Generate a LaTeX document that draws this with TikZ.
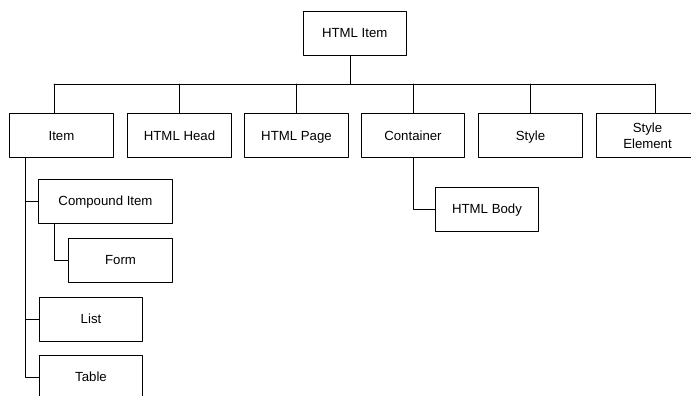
\documentclass[tikz,border=0pt]{standalone}
\usepackage{fontspec}
\setmainfont{Liberation Sans}
\tikzset{
  itembox/.style={draw, line width=0.7pt, minimum width=2.575cm, minimum height=1.1cm,
    inner sep=1pt, align=center, font=\fontsize{9.4}{11.5}\selectfont},
  oneline/.style={itembox, text height=1.6ex, text depth=0.3ex},
  link/.style={line width=0.7pt}
}
\begin{document}
\begin{tikzpicture}[x=0.025cm, y=-0.025cm, line cap=round, line join=round]
  \useasboundingbox (0,0) rectangle (691,395);

  \node[oneline] (top) at (354.7,33) {HTML Item};

  \node[oneline] (item)      at (61.5,135.5)  {Item};
  \node[oneline] (head)      at (179.5,135.5) {HTML Head};
  \node[oneline] (page)      at (296.5,135.5) {HTML Page};
  \node[oneline] (container) at (413,135.5)   {Container};
  \node[oneline] (style)     at (530.5,135.5) {Style};
  \node[itembox] (styleel)   at (647.5,135.5) {Style\\Element};

  \node[oneline, minimum width=3.325cm] (compound) at (105.5,201) {Compound Item};
  \node[oneline] (form)  at (120.5,260) {Form};
  \node[oneline] (list)  at (91,319)    {List};
  \node[oneline] (table) at (91,377)    {Table};

  \node[oneline] (body) at (487,209) {HTML Body};

  \coordinate (barL) at (54,84);
  \coordinate (barR) at (655,84);

  \draw[link] ([xshift=-3.3pt]top.south) -- ([xshift=-3.3pt]top.south |- barL);
  \draw[link] (barL) -- (barR);
  \draw[link] (barL) -- (barL |- item.north);
  \draw[link] (head.north |- barL) -- (head.north);
  \draw[link] (page.north |- barL) -- (page.north);
  \draw[link] (container.north |- barL) -- (container.north);
  \draw[link] (style.north |- barL) -- (style.north);
  \draw[link] (barR) -- (barR |- styleel.north);

  \coordinate (itemdrop) at ([xshift=-25.5pt]item.south);
  \draw[link] (itemdrop) |- (table.west);
  \draw[link] (itemdrop |- compound.west) -- (compound.west);
  \draw[link] (itemdrop |- list.west) -- (list.west);

  \draw[link] ([xshift=-36.5pt]compound.south) |- (form.west);
  \draw[link] (container.south) |- (body.west);
\end{tikzpicture}
\end{document}
